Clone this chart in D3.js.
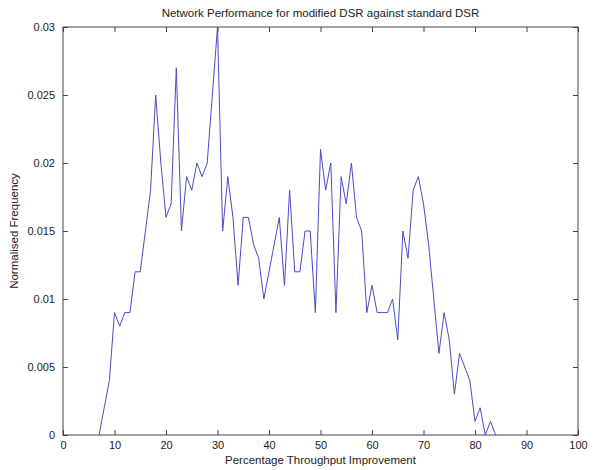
<!DOCTYPE html>
<html>
<head>
<meta charset="utf-8">
<script src="https://cdn.jsdelivr.net/npm/d3@7"></script>
<style>
  body { margin: 0; background: #fff; }
  svg { font-family: "Liberation Sans", Arial, sans-serif; }
  .axis path { display: none; }
  .axis line { stroke: #444; }
  .axis text { fill: #222; font-size: 11px; }
</style>
</head>
<body>
<div id="chart"></div>
<script>
// percentage throughput improvement (x) and normalised frequency (y)
var improvement = [7, 8, 9, 10, 11, 12, 13, 14, 15, 16, 17, 18, 19, 20, 21, 22, 23, 24, 25, 26,
  27, 28, 29, 30, 31, 32, 33, 34, 35, 36, 37, 38, 39, 40, 41, 42, 43, 44, 45, 46,
  47, 48, 49, 50, 51, 52, 53, 54, 55, 56, 57, 58, 59, 60, 61, 62, 63, 64, 65, 66,
  67, 68, 69, 70, 71, 72, 73, 74, 75, 76, 77, 78, 79, 80, 81, 82, 83, 84]
var frequency = [0, 0.002, 0.004, 0.009, 0.008, 0.009, 0.009, 0.012, 0.012, 0.015, 0.018, 0.025, 0.020, 0.016, 0.017, 0.027, 0.015, 0.019, 0.018, 0.020,
  0.019, 0.020, 0.025, 0.030, 0.015, 0.019, 0.016, 0.011, 0.016, 0.016, 0.014, 0.013, 0.010, 0.012, 0.014, 0.016, 0.011, 0.018, 0.012, 0.012,
  0.015, 0.015, 0.009, 0.021, 0.018, 0.020, 0.009, 0.019, 0.017, 0.020, 0.016, 0.015, 0.009, 0.011, 0.009, 0.009, 0.009, 0.010, 0.007, 0.015,
  0.013, 0.018, 0.019, 0.017, 0.014, 0.010, 0.006, 0.009, 0.007, 0.003, 0.006, 0.005, 0.004, 0.001, 0.002, 0, 0.001, 0]

var xTicks = [0, 10, 20, 30, 40, 50, 60, 70, 80, 90, 100]
var yTicks = [0, 0.005, 0.01, 0.015, 0.02, 0.025, 0.03]

var title = 'Network Performance for modified DSR against standard DSR'
var xLabel = 'Percentage Throughput Improvement'
var yLabel = 'Normalised Frequency'

var data = improvement.map(function(d, i){ return {x: d, y: frequency[i]} })

var totalWidth = 598, totalHeight = 470
var margin = {left: 63, right: 20, top: 27, bottom: 35}
var width = totalWidth - margin.left - margin.right
var height = totalHeight - margin.top - margin.bottom

var svg = d3.select('#chart').append('svg')
  .attr('width', totalWidth)
  .attr('height', totalHeight)

var g = svg.append('g').attr('transform', 'translate(' + margin.left + ',' + margin.top + ')')

var x = d3.scaleLinear().domain([0, 100]).range([0, width])
var y = d3.scaleLinear().domain([0, 0.03]).range([height, 0])

// inward ticks on all four sides, like matlab
g.append('g').attr('class', 'axis')
  .attr('transform', 'translate(0,' + height + ')')
  .call(d3.axisBottom(x).tickValues(xTicks).tickSizeInner(-5).tickSizeOuter(0).tickPadding(6).tickFormat(d3.format('d')))

g.append('g').attr('class', 'axis')
  .call(d3.axisTop(x).tickValues(xTicks).tickSizeInner(-5).tickSizeOuter(0).tickFormat(''))

g.append('g').attr('class', 'axis')
  .call(d3.axisLeft(y).tickValues(yTicks).tickSizeInner(-5).tickSizeOuter(0).tickPadding(8).tickFormat(function(d){ return d3.format('')(+d.toFixed(3)) }))

g.append('g').attr('class', 'axis')
  .attr('transform', 'translate(' + width + ',0)')
  .call(d3.axisRight(y).tickValues(yTicks).tickSizeInner(-5).tickSizeOuter(0).tickFormat(''))

g.append('rect')
  .attr('width', width)
  .attr('height', height)
  .attr('fill', 'none')
  .attr('stroke', '#444')

var line = d3.line()
  .x(function(d){ return x(d.x) })
  .y(function(d){ return y(d.y) })

g.append('path')
  .attr('d', line(data))
  .attr('fill', 'none')
  .attr('stroke', '#4a4ac8')
  .attr('stroke-width', 1)

g.append('text')
  .attr('x', width / 2).attr('y', -10)
  .attr('text-anchor', 'middle')
  .style('font-size', '11.5px').style('fill', '#222')
  .text(title)

g.append('text')
  .attr('x', width / 2).attr('y', height + 29)
  .attr('text-anchor', 'middle')
  .style('font-size', '11.5px').style('fill', '#222')
  .text(xLabel)

g.append('text')
  .attr('transform', 'translate(' + (-45) + ',' + (height / 2) + ') rotate(-90)')
  .attr('text-anchor', 'middle')
  .style('font-size', '11.5px').style('fill', '#222')
  .text(yLabel)
</script>
</body>
</html>
